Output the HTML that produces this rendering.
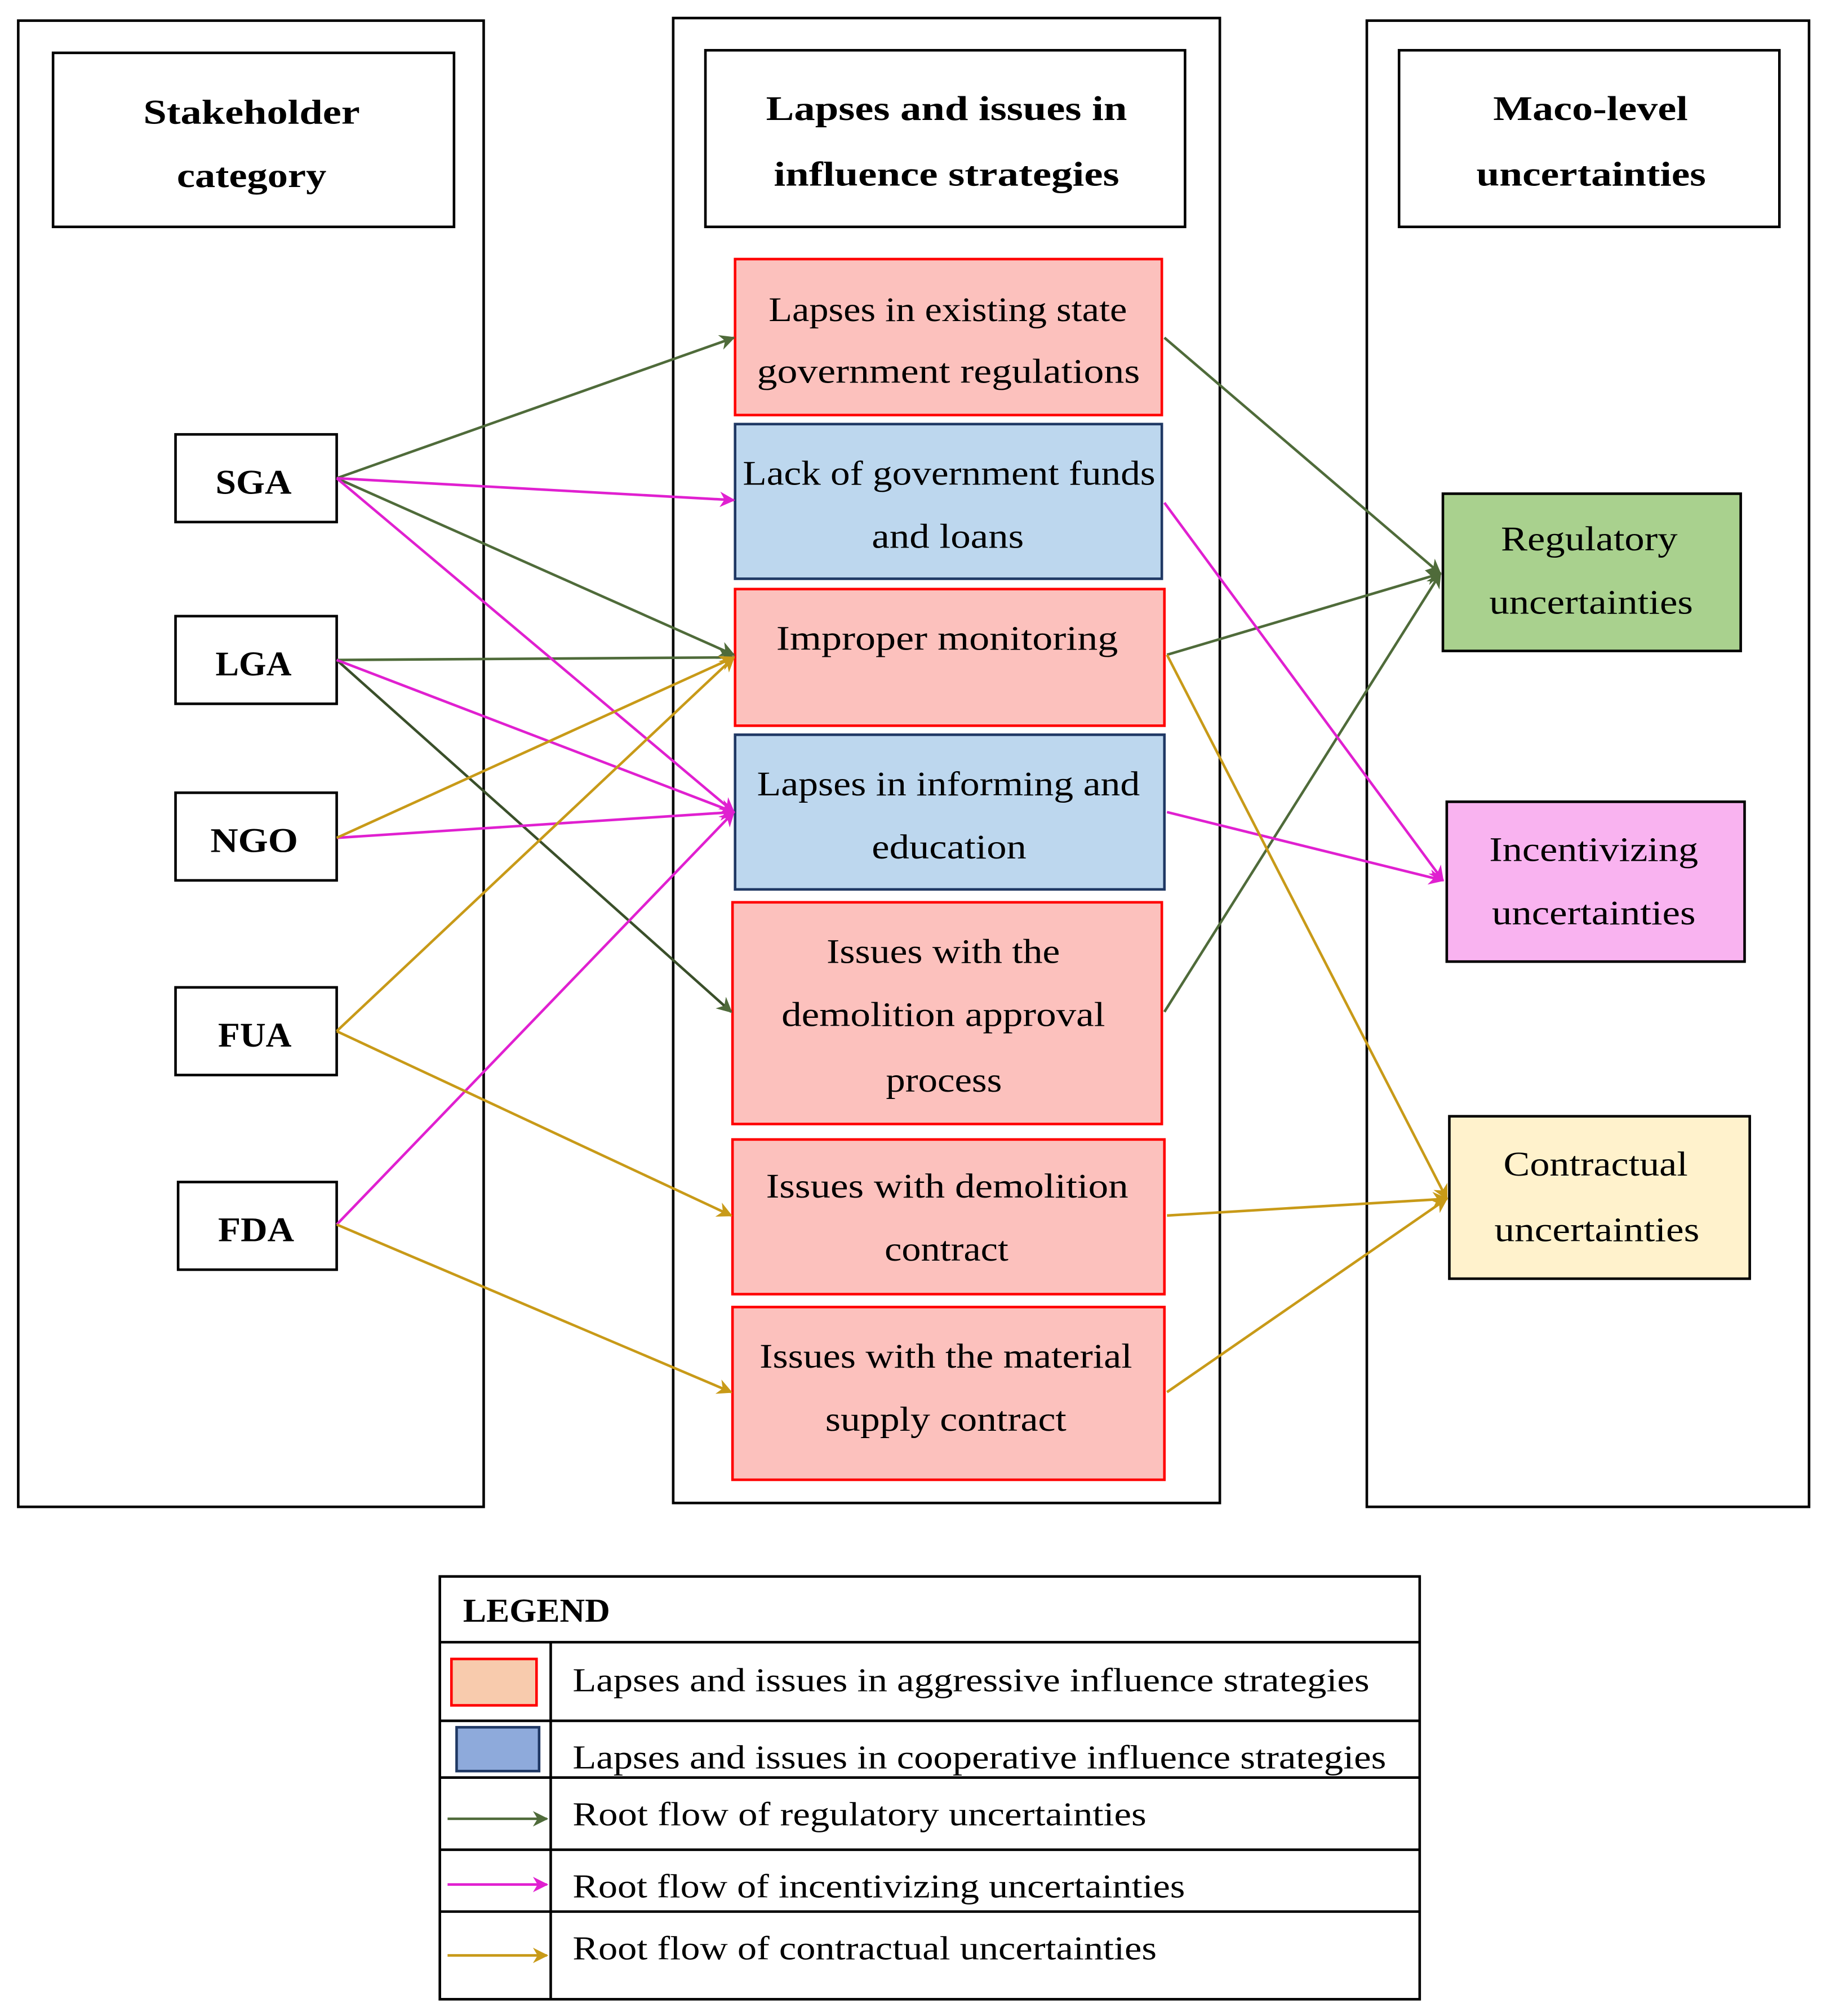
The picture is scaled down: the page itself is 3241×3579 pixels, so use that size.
<!DOCTYPE html>
<html><head><meta charset="utf-8"><style>
html,body{margin:0;padding:0;background:#fff}
svg{display:block}
text{font-family:"Liberation Serif",serif;fill:#000}
</style></head><body>
<svg width="3241" height="3579" viewBox="0 0 1416 1564" xmlns="http://www.w3.org/2000/svg">
<defs>
<marker id="ag" viewBox="0 0 10 10" refX="9" refY="5" markerWidth="6" markerHeight="6" orient="auto"><path d="M0,0L10,5L0,10L3,5z" fill="#4f6b3a"/></marker>
<marker id="am" viewBox="0 0 10 10" refX="9" refY="5" markerWidth="6" markerHeight="6" orient="auto"><path d="M0,0L10,5L0,10L3,5z" fill="#e020d0"/></marker>
<marker id="ay" viewBox="0 0 10 10" refX="9" refY="5" markerWidth="6" markerHeight="6" orient="auto"><path d="M0,0L10,5L0,10L3,5z" fill="#c89a18"/></marker>
</defs>
<g fill="none" stroke="#000" stroke-width="2">
<rect x="14" y="16" width="361" height="1153"/>
<rect x="522" y="14" width="424" height="1152"/>
<rect x="1060" y="16" width="343" height="1153"/>
<rect x="41" y="41" width="311" height="135"/>
<rect x="547" y="39" width="372" height="137"/>
<rect x="1085" y="39" width="295" height="137"/>
<rect x="136" y="337" width="125" height="68"/>
<rect x="136" y="478" width="125" height="68"/>
<rect x="136" y="615" width="125" height="68"/>
<rect x="136" y="766" width="125" height="68"/>
<rect x="138" y="917" width="123" height="68"/>
</g>
<g stroke-width="2">
<rect x="570" y="201" width="331" height="121" fill="#fcc1bd" stroke="#f00"/>
<rect x="570" y="329" width="331" height="120" fill="#bdd7ee" stroke="#1f3864"/>
<rect x="570" y="457" width="333" height="106" fill="#fcc1bd" stroke="#f00"/>
<rect x="570" y="570" width="333" height="120" fill="#bdd7ee" stroke="#1f3864"/>
<rect x="568" y="700" width="333" height="172" fill="#fcc1bd" stroke="#f00"/>
<rect x="568" y="884" width="335" height="120" fill="#fcc1bd" stroke="#f00"/>
<rect x="568" y="1014" width="335" height="134" fill="#fcc1bd" stroke="#f00"/>
<rect x="1119" y="383" width="231" height="122" fill="#a9d18e" stroke="#000"/>
<rect x="1122" y="622" width="231" height="124" fill="#f9b3f0" stroke="#000"/>
<rect x="1124" y="866" width="233" height="126" fill="#fff2cc" stroke="#000"/>
</g>
<g font-size="27" font-weight="bold" lengthAdjust="spacingAndGlyphs">
<text x="111" y="96" textLength="168" lengthAdjust="spacingAndGlyphs">Stakeholder</text><text x="137" y="145" textLength="116" lengthAdjust="spacingAndGlyphs">category</text>
<text x="594" y="93" textLength="280" lengthAdjust="spacingAndGlyphs">Lapses and issues in</text><text x="600" y="144" textLength="268" lengthAdjust="spacingAndGlyphs">influence strategies</text>
<text x="1158" y="93" textLength="151" lengthAdjust="spacingAndGlyphs">Maco-level</text><text x="1145" y="144" textLength="178" lengthAdjust="spacingAndGlyphs">uncertainties</text>
<text x="167" y="383" textLength="59" lengthAdjust="spacingAndGlyphs">SGA</text><text x="167" y="524" textLength="59" lengthAdjust="spacingAndGlyphs">LGA</text><text x="163" y="661" textLength="68" lengthAdjust="spacingAndGlyphs">NGO</text><text x="169" y="812" textLength="57" lengthAdjust="spacingAndGlyphs">FUA</text><text x="169" y="963" textLength="59" lengthAdjust="spacingAndGlyphs">FDA</text>
</g>
<g font-size="27">
<text x="596" y="249" textLength="278" lengthAdjust="spacingAndGlyphs">Lapses in existing state</text><text x="587" y="297" textLength="297" lengthAdjust="spacingAndGlyphs">government regulations</text>
<text x="576" y="376" textLength="320" lengthAdjust="spacingAndGlyphs">Lack of government funds</text><text x="676" y="425" textLength="118" lengthAdjust="spacingAndGlyphs">and loans</text>
<text x="602" y="504" textLength="265" lengthAdjust="spacingAndGlyphs">Improper monitoring</text>
<text x="587" y="617" textLength="297" lengthAdjust="spacingAndGlyphs">Lapses in informing and</text><text x="676" y="666" textLength="120" lengthAdjust="spacingAndGlyphs">education</text>
<text x="641" y="747" textLength="181" lengthAdjust="spacingAndGlyphs">Issues with the</text><text x="606" y="796" textLength="251" lengthAdjust="spacingAndGlyphs">demolition approval</text><text x="687" y="847" textLength="90" lengthAdjust="spacingAndGlyphs">process</text>
<text x="594" y="929" textLength="281" lengthAdjust="spacingAndGlyphs">Issues with demolition</text><text x="686" y="978" textLength="96" lengthAdjust="spacingAndGlyphs">contract</text>
<text x="589" y="1061" textLength="289" lengthAdjust="spacingAndGlyphs">Issues with the material</text><text x="640" y="1110" textLength="187" lengthAdjust="spacingAndGlyphs">supply contract</text>
<text x="1164" y="427" textLength="137" lengthAdjust="spacingAndGlyphs">Regulatory</text><text x="1155" y="476" textLength="158" lengthAdjust="spacingAndGlyphs">uncertainties</text>
<text x="1155" y="668" textLength="162" lengthAdjust="spacingAndGlyphs">Incentivizing</text><text x="1157" y="717" textLength="158" lengthAdjust="spacingAndGlyphs">uncertainties</text>
<text x="1166" y="912" textLength="143" lengthAdjust="spacingAndGlyphs">Contractual</text><text x="1159" y="963" textLength="159" lengthAdjust="spacingAndGlyphs">uncertainties</text>
</g>
<g stroke="#4f6b3a" stroke-width="2" fill="none" marker-end="url(#ag)">
<line x1="261" y1="371" x2="569" y2="262"/>
<line x1="261" y1="371" x2="569" y2="508"/>
<line x1="261" y1="512" x2="569" y2="510"/>
<line x1="261" y1="512" x2="567" y2="785" stroke="#3a4f2a"/>
<line x1="903" y1="262" x2="1117" y2="445"/>
<line x1="905" y1="508" x2="1117" y2="445"/>
<line x1="903" y1="785" x2="1117" y2="445"/>
</g>
<g stroke="#e020d0" stroke-width="2" fill="none" marker-end="url(#am)">
<line x1="261" y1="371" x2="569" y2="388"/>
<line x1="261" y1="371" x2="569" y2="630"/>
<line x1="261" y1="512" x2="569" y2="630"/>
<line x1="261" y1="650" x2="569" y2="630"/>
<line x1="261" y1="950" x2="569" y2="630"/>
<line x1="903" y1="390" x2="1119" y2="683"/>
<line x1="905" y1="630" x2="1119" y2="683"/>
</g>
<g stroke="#c89a18" stroke-width="2" fill="none" marker-end="url(#ay)">
<line x1="261" y1="650" x2="569" y2="510"/>
<line x1="261" y1="800" x2="569" y2="510"/>
<line x1="261" y1="800" x2="567" y2="943"/>
<line x1="261" y1="950" x2="567" y2="1080"/>
<line x1="905" y1="508" x2="1122" y2="930"/>
<line x1="905" y1="943" x2="1122" y2="930"/>
<line x1="905" y1="1080" x2="1122" y2="930"/>
</g>
<g fill="none" stroke="#000" stroke-width="2">
<rect x="341" y="1223" width="760" height="328"/>
<line x1="341" y1="1274" x2="1101" y2="1274"/>
<line x1="341" y1="1335" x2="1101" y2="1335"/>
<line x1="341" y1="1379" x2="1101" y2="1379"/>
<line x1="341" y1="1435" x2="1101" y2="1435"/>
<line x1="341" y1="1483" x2="1101" y2="1483"/>
<line x1="427" y1="1274" x2="427" y2="1551"/>
</g>
<rect x="350" y="1287" width="66" height="36" fill="#f8cbad" stroke="#f00" stroke-width="2"/>
<rect x="354" y="1340" width="64" height="34" fill="#8eaadb" stroke="#1f3864" stroke-width="2"/>
<line x1="347" y1="1411" x2="424" y2="1411" stroke="#4f6b3a" stroke-width="2" marker-end="url(#ag)"/>
<line x1="347" y1="1462" x2="424" y2="1462" stroke="#e020d0" stroke-width="2" marker-end="url(#am)"/>
<line x1="347" y1="1517" x2="424" y2="1517" stroke="#c89a18" stroke-width="2" marker-end="url(#ay)"/>
<text x="359" y="1258" font-size="26" font-weight="bold" textLength="114" lengthAdjust="spacingAndGlyphs">LEGEND</text>
<g font-size="26">
<text x="444" y="1312" textLength="618" lengthAdjust="spacingAndGlyphs">Lapses and issues in aggressive influence strategies</text>
<text x="444" y="1372" textLength="631" lengthAdjust="spacingAndGlyphs">Lapses and issues in cooperative influence strategies</text>
<text x="444" y="1416" textLength="445" lengthAdjust="spacingAndGlyphs">Root flow of regulatory uncertainties</text>
<text x="444" y="1472" textLength="475" lengthAdjust="spacingAndGlyphs">Root flow of incentivizing uncertainties</text>
<text x="444" y="1520" textLength="453" lengthAdjust="spacingAndGlyphs">Root flow of contractual uncertainties</text>
</g>
</svg>
</body></html>
